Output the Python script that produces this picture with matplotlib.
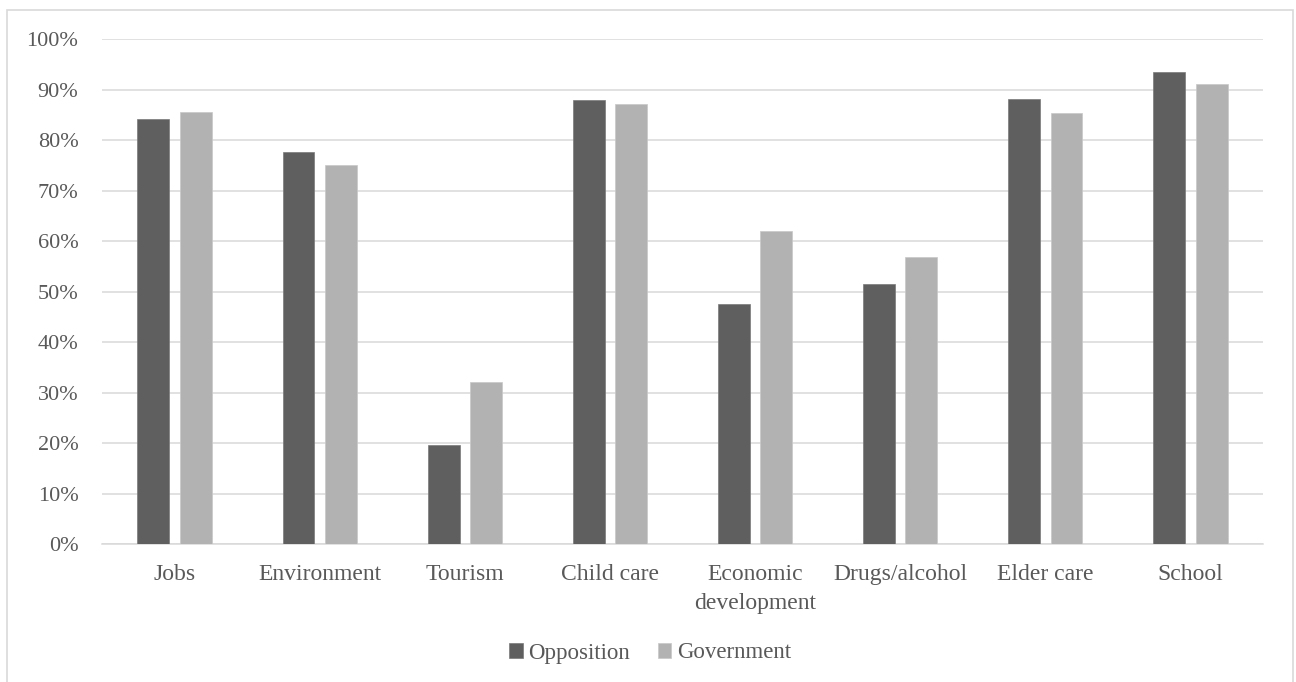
import matplotlib
matplotlib.use("Agg")
import matplotlib.pyplot as plt
import numpy as np
from matplotlib.patches import Rectangle
from matplotlib.ticker import FuncFormatter, MultipleLocator

categories = ["Jobs", "Environment", "Tourism", "Child care",
              "Economic\ndevelopment", "Drugs/alcohol", "Elder care", "School"]
opposition = [84.2, 77.6, 19.6, 87.9, 47.6, 51.5, 88.2, 93.5]
government = [85.5, 75.0, 32.2, 87.2, 62.1, 56.8, 85.3, 91.1]
series_names = ["Opposition", "Government"]

text_color = "#595959"
grid_color = "#d9d9d9"
opp_color = "#5f5f5f"
gov_color = "#b2b2b2"

plt.rcParams["font.family"] = ["Liberation Serif", "DejaVu Serif"]
plt.rcParams["font.size"] = 16

W, H = 1296, 682
fig = plt.figure(figsize=(W / 100, H / 100), dpi=100)
ax = fig.add_axes([102 / W, 1 - 544.3 / H, (1263 - 102) / W, (544.3 - 39) / H])

x = np.arange(len(categories))
bw = 0.22
off = 0.146
ax.bar(x - off, opposition, bw, color=opp_color, label=series_names[0], zorder=3,
       edgecolor="#7a7a7a", linewidth=0.5)
ax.bar(x + off, government, bw, color=gov_color, label=series_names[1], zorder=3,
       edgecolor="#c8c8c8", linewidth=0.5)

ax.set_xlim(-0.5, len(categories) - 0.5)
ax.set_ylim(0, 100)
ax.yaxis.set_major_locator(MultipleLocator(10))
ax.yaxis.set_major_formatter(FuncFormatter(lambda v, p: f"{v:.0f}%"))
ax.grid(axis="y", color=grid_color, linewidth=1.1, zorder=0)
ax.set_axisbelow(True)

ax.set_xticks(x)
ax.set_xticklabels(categories, linespacing=1.5, fontsize=17)
ax.tick_params(axis="both", length=0, colors=text_color)
ax.tick_params(axis="y", pad=17, labelsize=16)
ax.tick_params(axis="x", pad=14)
for s in ["top", "right", "left"]:
    ax.spines[s].set_visible(False)
ax.spines["bottom"].set_color(grid_color)
ax.spines["bottom"].set_linewidth(1.1)

leg = fig.legend(loc="center", bbox_to_anchor=(650 / W, 1 - 653 / H), ncol=2,
                 frameon=False, handlelength=0.6, handleheight=0.6,
                 handletextpad=0.25, columnspacing=1.2, fontsize=16.5)
for t in leg.get_texts():
    t.set_color(text_color)

# chart area border
fig.patches.append(Rectangle((7 / W, -0.05), (1293 - 7) / W, 1.05 - 10 / H,
                             transform=fig.transFigure, fill=False,
                             edgecolor=grid_color, linewidth=1.2))

fig.savefig("out.png", dpi=100, facecolor="white")
